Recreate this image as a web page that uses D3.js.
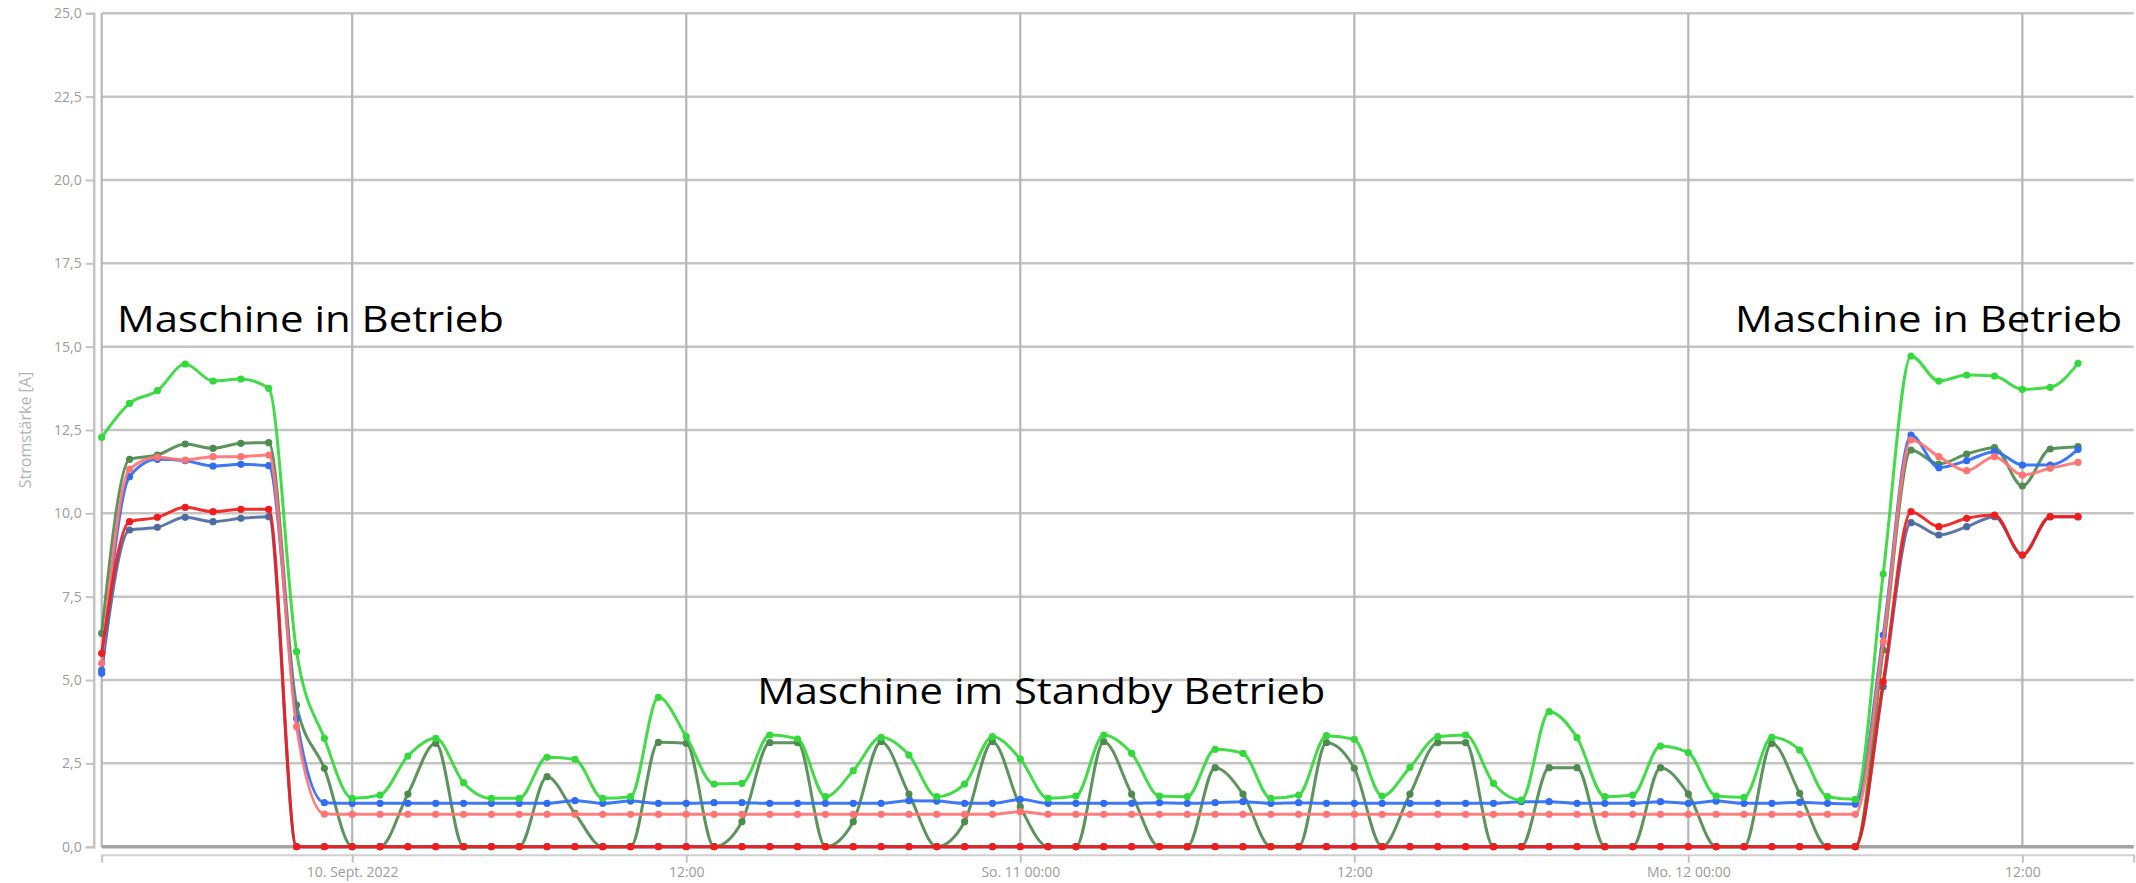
<!DOCTYPE html>
<html>
<head>
<meta charset="utf-8">
<script src="https://cdn.jsdelivr.net/npm/d3@7"></script>
<style>
  body { margin: 0; background: #fff; }
  .tick text { font-family: "Open Sans", sans-serif; }
</style>
</head>
<body>
<div id="chart"></div>
<script>
// hourly readings, 9 Sept 2022 15:00 -> 12 Sept 2022 14:00
var startTime = new Date(2022, 8, 9, 15);
var endTime = new Date(2022, 8, 12, 14);
var domainEnd = new Date(2022, 8, 12, 16);

var greenVals = [12.28, 13.3, 13.68, 14.48, 13.97, 14.03, 13.75, 5.85, 3.25,
  1.45, 1.55, 2.72, 3.25, 1.92, 1.45, 1.45, 2.68, 2.62, 1.45, 1.5, 4.48, 3.3, 1.88, 1.9,
  3.35, 3.23, 1.5, 2.28, 3.28, 2.75, 1.5, 1.88, 3.3, 2.63, 1.45, 1.52, 3.35, 2.8,
  1.52, 1.5, 2.92, 2.8, 1.45, 1.55, 3.33, 3.22, 1.52, 2.38, 3.3, 3.35, 1.9, 1.4,
  4.05, 3.27, 1.5, 1.55, 3.02, 2.82, 1.52, 1.48, 3.28, 2.9, 1.5, 1.42,
  8.18, 14.72, 13.97, 14.15, 14.12, 13.72, 13.78, 14.5];

var darkGreenVals = [6.4, 11.62, 11.75, 12.08, 11.95, 12.1, 12.12, 4.25, 2.35,
  0, 0, 1.58, 3.1, 0, 0, 0, 2.1, 1.0, 0, 0, 3.13, 3.1, 0, 0.75,
  3.12, 3.12, 0, 0.75, 3.15, 1.58, 0, 0.75, 3.15, 1.2, 0, 0, 3.15, 1.58,
  0, 0, 2.37, 1.58, 0, 0, 3.12, 2.35, 0, 1.58, 3.12, 3.12, 0, 0,
  2.37, 2.37, 0, 0, 2.37, 1.58, 0, 0, 3.1, 1.6, 0, 0,
  5.9, 11.9, 11.48, 11.78, 11.97, 10.82, 11.93, 12.0];

var blueVals = [5.2, 11.1, 11.62, 11.58, 11.42, 11.47, 11.43, 3.85, 1.32,
  1.3, 1.3, 1.3, 1.3, 1.3, 1.3, 1.3, 1.3, 1.38, 1.3, 1.37, 1.3, 1.3, 1.32, 1.32,
  1.3, 1.3, 1.3, 1.3, 1.3, 1.38, 1.37, 1.3, 1.3, 1.42, 1.3, 1.3, 1.3, 1.3,
  1.32, 1.3, 1.32, 1.35, 1.3, 1.32, 1.3, 1.3, 1.3, 1.3, 1.3, 1.3, 1.3, 1.35,
  1.35, 1.3, 1.3, 1.3, 1.35, 1.3, 1.37, 1.3, 1.3, 1.33, 1.3, 1.28,
  6.35, 12.35, 11.37, 11.58, 11.85, 11.45, 11.45, 11.92];

var pinkVals = [5.5, 11.32, 11.68, 11.6, 11.7, 11.7, 11.75, 3.6, 0.98,
  0.97, 0.97, 0.97, 0.97, 0.97, 0.97, 0.97, 0.97, 0.97, 0.97, 0.97, 0.97, 0.97, 0.97, 0.97,
  0.97, 0.97, 0.97, 0.97, 0.97, 0.97, 0.97, 0.97, 0.97, 1.05, 0.97, 0.97, 0.97, 0.97,
  0.97, 0.97, 0.97, 0.97, 0.97, 0.97, 0.97, 0.97, 0.97, 0.97, 0.97, 0.97, 0.97, 0.97,
  0.97, 0.97, 0.97, 0.97, 0.97, 0.97, 0.97, 0.97, 0.97, 0.97, 0.97, 0.97,
  6.15, 12.2, 11.7, 11.28, 11.7, 11.15, 11.35, 11.53];

var redVals = [5.8, 9.75, 9.88, 10.18, 10.05, 10.12, 10.12, 0, 0,
  0, 0, 0, 0, 0, 0, 0, 0, 0, 0, 0, 0, 0, 0, 0,
  0, 0, 0, 0, 0, 0, 0, 0, 0, 0, 0, 0, 0, 0,
  0, 0, 0, 0, 0, 0, 0, 0, 0, 0, 0, 0, 0, 0,
  0, 0, 0, 0, 0, 0, 0, 0, 0, 0, 0, 0,
  4.95, 10.05, 9.6, 9.85, 9.95, 8.75, 9.9, 9.9];

var slateVals = [5.3, 9.5, 9.58, 9.88, 9.75, 9.85, 9.9, 0, 0,
  0, 0, 0, 0, 0, 0, 0, 0, 0, 0, 0, 0, 0, 0, 0,
  0, 0, 0, 0, 0, 0, 0, 0, 0, 0, 0, 0, 0, 0,
  0, 0, 0, 0, 0, 0, 0, 0, 0, 0, 0, 0, 0, 0,
  0, 0, 0, 0, 0, 0, 0, 0, 0, 0, 0, 0,
  4.8, 9.72, 9.35, 9.6, 9.9, 8.75, 9.9, 9.9];

var yTicks = [0, 2.5, 5, 7.5, 10, 12.5, 15, 17.5, 20, 22.5, 25];
var xTickTimes = [new Date(2022, 8, 10, 0), new Date(2022, 8, 10, 12), new Date(2022, 8, 11, 0),
  new Date(2022, 8, 11, 12), new Date(2022, 8, 12, 0), new Date(2022, 8, 12, 12)];
var xTickLabels = ["10. Sept. 2022", "12:00", "So. 11 00:00", "12:00", "Mo. 12 00:00", "12:00"];

// drawn bottom -> top
var series = [
  {name: "slate", color: "#4d6aa3", values: slateVals},
  {name: "darkgreen", color: "#4f8a4f", values: darkGreenVals},
  {name: "blue", color: "#2f6cf2", values: blueVals},
  {name: "pink", color: "#ff7373", values: pinkVals},
  {name: "red", color: "#f01c1c", values: redVals},
  {name: "green", color: "#33d83a", values: greenVals}
];

var times = d3.timeHour.range(startTime, d3.timeHour.offset(endTime, 1));

var W = 2136, H = 883;
var margin = {top: 13.3, right: 2.3, bottom: 36.3, left: 101.7},
    width = W - margin.left - margin.right,
    height = H - margin.top - margin.bottom;

var svg = d3.select("#chart").append("svg")
    .attr("width", W)
    .attr("height", H)
    .style("font-family", "'Open Sans', sans-serif");

var g = svg.append("g")
    .attr("transform", "translate(" + margin.left + "," + margin.top + ")");

var x = d3.scaleTime().domain([startTime, domainEnd]).range([0, width]);
var y = d3.scaleLinear().domain([0, 25]).range([height, 0]);

var fmt = function(v){ return d3.format(".1f")(v).replace(".", ","); };

// horizontal grid
g.append("g")
  .selectAll("line")
  .data(yTicks)
  .enter().append("line")
    .attr("x1", 0).attr("x2", width)
    .attr("y1", function(d){ return y(d); })
    .attr("y2", function(d){ return y(d); })
    .attr("stroke", "#c4c4c4")
    .attr("stroke-width", 2.5);

// vertical grid (incl. left border)
g.append("g")
  .selectAll("line")
  .data([startTime].concat(xTickTimes))
  .enter().append("line")
    .attr("x1", function(d){ return x(d); })
    .attr("x2", function(d){ return x(d); })
    .attr("y1", 0).attr("y2", height)
    .attr("stroke", "#b6b6b6")
    .attr("stroke-width", 2.2);

// zero baseline
g.append("line")
  .attr("x1", 0).attr("x2", width)
  .attr("y1", y(0)).attr("y2", y(0))
  .attr("stroke", "#a3a3a3")
  .attr("stroke-width", 3.5);

// y axis, set a bit left of the plot
var yAxis = d3.axisLeft(y).tickValues(yTicks).tickFormat(fmt).tickSize(8).tickPadding(4);
var yAx = svg.append("g")
    .attr("transform", "translate(" + (margin.left - 8) + "," + margin.top + ")")
    .call(yAxis);
yAx.select(".domain").attr("stroke", "#c4c4c4").attr("stroke-width", 2.5);
yAx.selectAll(".tick line").attr("stroke", "#c4c4c4").attr("stroke-width", 2);
yAx.selectAll(".tick text").attr("fill", "#9b9b9b").style("font-size", "14px");

// x axis, below the baseline
var xAxis = d3.axisBottom(x).tickValues([startTime].concat(xTickTimes, [domainEnd]))
    .tickFormat(function(d){
      var k = xTickTimes.findIndex(function(t){ return +t === +d; });
      return k < 0 ? "" : xTickLabels[k];
    })
    .tickSize(8).tickSizeOuter(0).tickPadding(4);
var xAx = svg.append("g")
    .attr("transform", "translate(" + margin.left + "," + (margin.top + height + 8) + ")")
    .call(xAxis);
xAx.select(".domain").attr("stroke", "#cfcfcf").attr("stroke-width", 2);
xAx.selectAll(".tick line").attr("stroke", "#c4c4c4").attr("stroke-width", 2);
xAx.selectAll(".tick text").attr("fill", "#9b9b9b").style("font-size", "14px");

// y title
svg.append("text")
  .attr("transform", "translate(27," + (margin.top + y(12.5)) + ") rotate(-90)")
  .attr("text-anchor", "middle")
  .attr("dominant-baseline", "middle")
  .attr("fill", "#b3b3b3")
  .style("font-size", "16px")
  .text("Stromstärke [A]");

// lines + markers
var line = d3.line()
    .x(function(d){ return x(d.t); })
    .y(function(d){ return y(d.v); })
    .curve(d3.curveMonotoneX);

series.forEach(function(s){
  var pts = s.values.map(function(v, i){ return {t: times[i], v: v}; });
  var sg = g.append("g").attr("class", "series-" + s.name);
  sg.append("path")
    .datum(pts)
    .attr("fill", "none")
    .attr("stroke", s.color)
    .attr("stroke-width", 3)
    .attr("stroke-linejoin", "round")
    .attr("opacity", 0.92)
    .attr("d", line);
  sg.selectAll("circle")
    .data(pts)
    .enter().append("circle")
      .attr("cx", function(d){ return x(d.t); })
      .attr("cy", function(d){ return y(d.v); })
      .attr("r", 3.6)
      .attr("fill", s.color);
});

// annotations (width)
var notes = [
  {text: "Maschine in Betrieb", t: new Date(2022, 8, 9, 15, 33), v: 15.45, anchor: "start", len: 387},
  {text: "Maschine in Betrieb", t: new Date(2022, 8, 12, 15, 35), v: 15.45, anchor: "end", len: 387},
  {text: "Maschine im Standby Betrieb", t: new Date(2022, 8, 10, 14, 33), v: 4.28, anchor: "start", len: 568}
];
g.selectAll(".note")
  .data(notes)
  .enter().append("text")
    .attr("class", "note")
    .attr("x", function(d){ return x(d.t); })
    .attr("y", function(d){ return y(d.v); })
    .attr("text-anchor", function(d){ return d.anchor; })
    .attr("textLength", function(d){ return d.len; })
    .attr("lengthAdjust", "spacingAndGlyphs")
    .attr("fill", "#000")
    .style("font-family", "'Open Sans', sans-serif")
    .style("font-size", "36px")
    .text(function(d){ return d.text; });
</script>
</body>
</html>
